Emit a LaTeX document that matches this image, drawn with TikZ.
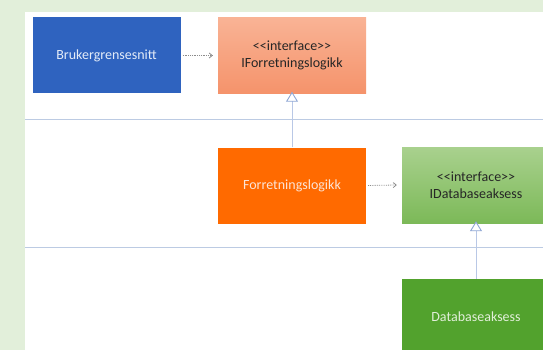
\documentclass[tikz,border=0pt]{standalone}
\usepackage{fontspec}
\setmainfont{Carlito}
\usetikzlibrary{arrows.meta}
\definecolor{pagebg}{HTML}{E2EFDA}
\definecolor{uiblue}{HTML}{2F63BF}
\definecolor{uitext}{HTML}{E4ECF8}
\definecolor{salmontop}{HTML}{F9B395}
\definecolor{salmonbot}{HTML}{F5936B}
\definecolor{logicorange}{HTML}{FF6A00}
\definecolor{logictext}{HTML}{FCE4D6}
\definecolor{greentop}{HTML}{A9D18E}
\definecolor{greenbot}{HTML}{7CB958}
\definecolor{dbgreen}{HTML}{52A22D}
\definecolor{dbtext}{HTML}{E2EFDA}
\definecolor{layerline}{HTML}{BCCBE3}
\definecolor{realize}{HTML}{B9C8E6}
\definecolor{realizetip}{HTML}{8EA6D4}
\definecolor{depgray}{HTML}{8C8C8C}
\definecolor{darktext}{HTML}{262626}
\newcommand{\stereo}[1]{{<}{<}#1{>}{>}}
\tikzset{
  component/.style={rectangle, minimum width=148pt, minimum height=76pt,
    inner sep=0pt, align=center, font=\fontsize{14}{16.5}\selectfont},
  iface/.style={component, text=darktext},
  dependency/.style={depgray, densely dotted, line width=0.8pt,
    -{Straight Barb[length=3pt,width=5pt,line width=0.8pt]}},
  realization/.style={realize, line width=0.8pt,
    -{Triangle[open,length=10pt,width=12pt,line width=0.9pt,fill=white,color=realizetip]}},
  layer/.style={layerline, line width=0.8pt},
}
\begin{document}
\begin{tikzpicture}[x=1pt,y=-1pt]
  \useasboundingbox (0,0) rectangle (543,350);
  \clip (0,0) rectangle (543,350);
  \fill[pagebg] (0,0) rectangle (543,350);
  \fill[white] (25,12) rectangle (543,350);

  % layer separators
  \coordinate (l1a) at (25,119.5);
  \coordinate (l1b) at (543,119.5);
  \coordinate (l2a) at (25,247.8);
  \coordinate (l2b) at (543,247.8);
  \draw[layer] (l1a) -- (l1b);
  \draw[layer] (l2a) -- (l2b);

  % components
  \node[component, fill=uiblue, text=uitext] (ui) at (106.5,55.5) {Brukergrensesnitt};
  \node[iface, top color=salmontop, bottom color=salmonbot] (ibl) at (292,55.5)
    {\stereo{interface}\\IForretningslogikk};
  \node[component, fill=logicorange, text=logictext] (bl) at (292,185.5) {Forretningslogikk};
  \node[iface, top color=greentop, bottom color=greenbot] (idb) at (476,185)
    {\stereo{interface}\\IDatabaseaksess};
  \node[component, fill=dbgreen, text=dbtext] (db) at (476,317) {Databaseaksess};

  % dependencies
  \draw[dependency] ([xshift=2pt]ui.east) -- ([xshift=-5pt]ibl.west);
  \draw[dependency] ([xshift=2pt]bl.east) -- ([xshift=-5pt]idb.west);

  % realizations
  \draw[realization] (bl.north) -- ([yshift=2pt]ibl.south);
  \draw[realization] (db.north) -- ([yshift=2pt]idb.south);
\end{tikzpicture}
\end{document}
